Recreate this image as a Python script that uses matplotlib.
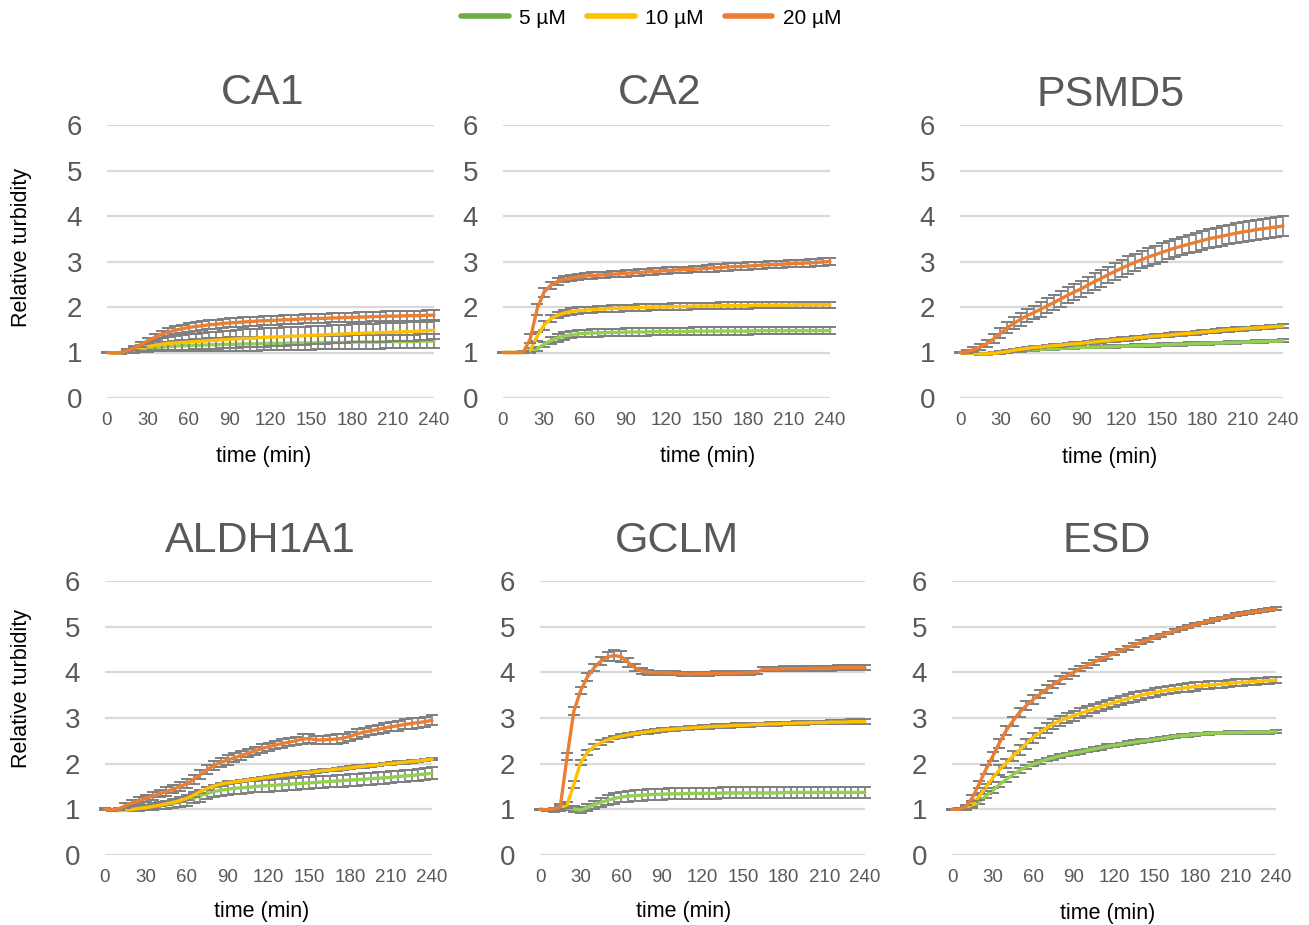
"""Relative turbidity over time for six proteins at 5, 10 and 20 uM."""
import matplotlib
matplotlib.use("Agg")
import matplotlib.pyplot as plt
from matplotlib.lines import Line2D

plt.rcParams["font.family"] = ["Liberation Sans", "DejaVu Sans"]

# time axis, minutes (readings every 5 min)
TIME = list(range(0, 241, 5))
CONCS = ["5 µM", "10 µM", "20 µM"]
X_TICKS = [0, 30, 60, 90, 120, 150, 180, 210, 240]
Y_TICKS = [0, 1, 2, 3, 4, 5, 6]

# ── CA1 ──
CA1_5 = [1.00, 0.99, 0.99, 1.01, 1.04, 1.07, 1.09, 1.11, 1.12, 1.13,
         1.14, 1.15, 1.15, 1.16, 1.16, 1.17, 1.17, 1.18, 1.18, 1.18,
         1.19, 1.19, 1.19, 1.20, 1.20, 1.20, 1.20, 1.21, 1.21, 1.21,
         1.21, 1.22, 1.22, 1.22, 1.22, 1.22, 1.23, 1.23, 1.23, 1.23,
         1.23, 1.24, 1.24, 1.24, 1.24, 1.24, 1.25, 1.25, 1.25]
CA1_10 = [1.00, 0.99, 1.00, 1.02, 1.06, 1.10, 1.13, 1.16, 1.18, 1.20,
          1.21, 1.22, 1.23, 1.24, 1.25, 1.26, 1.27, 1.28, 1.29, 1.30,
          1.31, 1.31, 1.32, 1.33, 1.34, 1.34, 1.35, 1.36, 1.36, 1.37,
          1.38, 1.38, 1.39, 1.40, 1.40, 1.41, 1.42, 1.42, 1.43, 1.43,
          1.44, 1.44, 1.45, 1.45, 1.46, 1.46, 1.47, 1.48, 1.49]
CA1_20 = [1.00, 0.99, 1.00, 1.04, 1.10, 1.18, 1.26, 1.33, 1.40, 1.45,
          1.49, 1.52, 1.55, 1.57, 1.59, 1.61, 1.62, 1.64, 1.65, 1.66,
          1.67, 1.68, 1.69, 1.70, 1.70, 1.71, 1.72, 1.72, 1.73, 1.74,
          1.74, 1.75, 1.75, 1.76, 1.76, 1.77, 1.77, 1.78, 1.78, 1.79,
          1.79, 1.80, 1.80, 1.80, 1.81, 1.81, 1.81, 1.82, 1.82]
CA1_5_ERR = [0.01, 0.01, 0.02, 0.03, 0.04, 0.06, 0.07, 0.08, 0.09, 0.10,
             0.11, 0.12, 0.12, 0.13, 0.13, 0.14, 0.14, 0.14, 0.15, 0.15,
             0.15, 0.15, 0.15, 0.15, 0.15, 0.15, 0.15, 0.15, 0.15, 0.15,
             0.15, 0.15, 0.15, 0.15, 0.15, 0.15, 0.15, 0.15, 0.15, 0.15,
             0.15, 0.15, 0.15, 0.15, 0.15, 0.15, 0.15, 0.15, 0.15]
CA1_10_ERR = [0.01, 0.01, 0.02, 0.03, 0.05, 0.07, 0.09, 0.11, 0.13, 0.14,
              0.15, 0.16, 0.17, 0.17, 0.18, 0.18, 0.19, 0.19, 0.19, 0.20,
              0.20, 0.20, 0.20, 0.20, 0.20, 0.20, 0.20, 0.20, 0.20, 0.20,
              0.20, 0.20, 0.20, 0.20, 0.20, 0.20, 0.20, 0.20, 0.20, 0.20,
              0.20, 0.20, 0.20, 0.20, 0.20, 0.20, 0.20, 0.20, 0.20]
CA1_20_ERR = [0.01, 0.01, 0.02, 0.03, 0.04, 0.05, 0.06, 0.07, 0.08, 0.08,
              0.09, 0.09, 0.09, 0.10, 0.10, 0.10, 0.10, 0.10, 0.10, 0.10,
              0.10, 0.10, 0.10, 0.10, 0.10, 0.10, 0.10, 0.10, 0.10, 0.10,
              0.10, 0.10, 0.10, 0.10, 0.10, 0.10, 0.10, 0.10, 0.10, 0.10,
              0.11, 0.11, 0.11, 0.11, 0.11, 0.11, 0.11, 0.11, 0.11]

# ── CA2 ──
CA2_5 = [1.00, 1.00, 1.00, 1.00, 1.00, 1.08, 1.18, 1.26, 1.32, 1.36,
         1.39, 1.41, 1.42, 1.43, 1.43, 1.44, 1.44, 1.44, 1.45, 1.45,
         1.45, 1.45, 1.46, 1.46, 1.46, 1.46, 1.46, 1.46, 1.47, 1.47,
         1.47, 1.47, 1.47, 1.47, 1.47, 1.47, 1.47, 1.48, 1.48, 1.48,
         1.48, 1.48, 1.48, 1.48, 1.48, 1.48, 1.48, 1.48, 1.48]
CA2_10 = [1.00, 1.00, 1.00, 1.00, 1.05, 1.35, 1.60, 1.74, 1.82, 1.87,
          1.90, 1.92, 1.93, 1.94, 1.95, 1.96, 1.97, 1.97, 1.98, 1.98,
          1.99, 1.99, 2.00, 2.00, 2.00, 2.01, 2.01, 2.01, 2.02, 2.02,
          2.02, 2.02, 2.03, 2.03, 2.03, 2.03, 2.03, 2.04, 2.04, 2.04,
          2.04, 2.04, 2.04, 2.05, 2.05, 2.05, 2.05, 2.05, 2.05]
CA2_20 = [1.00, 1.00, 1.00, 1.01, 1.30, 1.95, 2.32, 2.48, 2.56, 2.61,
          2.64, 2.66, 2.68, 2.69, 2.70, 2.71, 2.72, 2.73, 2.74, 2.75,
          2.76, 2.77, 2.78, 2.79, 2.80, 2.81, 2.82, 2.82, 2.83, 2.84,
          2.85, 2.86, 2.87, 2.88, 2.89, 2.89, 2.90, 2.91, 2.92, 2.93,
          2.93, 2.94, 2.95, 2.96, 2.96, 2.97, 2.98, 2.99, 3.00]
CA2_5_ERR = [0.01, 0.01, 0.01, 0.01, 0.02, 0.05, 0.06, 0.07, 0.08, 0.08,
             0.08, 0.08, 0.08, 0.08, 0.08, 0.08, 0.08, 0.08, 0.08, 0.08,
             0.08, 0.08, 0.08, 0.08, 0.08, 0.08, 0.08, 0.08, 0.08, 0.08,
             0.08, 0.08, 0.08, 0.08, 0.08, 0.08, 0.08, 0.08, 0.08, 0.08,
             0.08, 0.08, 0.08, 0.08, 0.08, 0.08, 0.08, 0.08, 0.08]
CA2_10_ERR = [0.01, 0.01, 0.01, 0.01, 0.04, 0.10, 0.10, 0.08, 0.07, 0.07,
              0.07, 0.07, 0.07, 0.07, 0.07, 0.07, 0.07, 0.07, 0.07, 0.07,
              0.07, 0.07, 0.07, 0.07, 0.07, 0.07, 0.07, 0.07, 0.07, 0.07,
              0.07, 0.07, 0.07, 0.07, 0.07, 0.07, 0.07, 0.07, 0.07, 0.07,
              0.07, 0.07, 0.07, 0.07, 0.07, 0.07, 0.07, 0.07, 0.07]
CA2_20_ERR = [0.01, 0.01, 0.01, 0.03, 0.10, 0.12, 0.10, 0.08, 0.07, 0.07,
              0.07, 0.07, 0.07, 0.07, 0.07, 0.07, 0.07, 0.07, 0.07, 0.07,
              0.07, 0.07, 0.07, 0.07, 0.07, 0.07, 0.07, 0.07, 0.07, 0.07,
              0.08, 0.08, 0.08, 0.08, 0.08, 0.08, 0.08, 0.08, 0.08, 0.08,
              0.08, 0.08, 0.08, 0.08, 0.08, 0.08, 0.08, 0.08, 0.08]

# ── PSMD5 ──
PSMD5_5 = [1.00, 0.99, 0.98, 0.98, 0.98, 0.99, 1.00, 1.01, 1.03, 1.04,
           1.05, 1.06, 1.07, 1.08, 1.08, 1.09, 1.10, 1.10, 1.11, 1.11,
           1.12, 1.12, 1.13, 1.13, 1.14, 1.14, 1.15, 1.15, 1.16, 1.16,
           1.17, 1.17, 1.18, 1.18, 1.19, 1.19, 1.20, 1.20, 1.21, 1.21,
           1.22, 1.22, 1.23, 1.23, 1.24, 1.24, 1.25, 1.25, 1.26]
PSMD5_10 = [1.00, 0.99, 0.98, 0.97, 0.97, 0.98, 1.00, 1.02, 1.05, 1.07,
            1.09, 1.11, 1.12, 1.14, 1.15, 1.16, 1.18, 1.19, 1.20, 1.22,
            1.23, 1.25, 1.26, 1.28, 1.29, 1.30, 1.32, 1.33, 1.35, 1.36,
            1.37, 1.38, 1.40, 1.41, 1.42, 1.43, 1.45, 1.46, 1.47, 1.49,
            1.50, 1.51, 1.52, 1.53, 1.54, 1.55, 1.56, 1.57, 1.58]
PSMD5_20 = [1.00, 1.02, 1.06, 1.12, 1.20, 1.30, 1.42, 1.54, 1.64, 1.73,
            1.81, 1.88, 1.95, 2.03, 2.10, 2.18, 2.26, 2.33, 2.40, 2.48,
            2.56, 2.63, 2.71, 2.78, 2.85, 2.92, 2.98, 3.04, 3.10, 3.15,
            3.20, 3.25, 3.30, 3.34, 3.38, 3.42, 3.46, 3.50, 3.53, 3.56,
            3.59, 3.62, 3.65, 3.67, 3.70, 3.72, 3.74, 3.76, 3.78]
PSMD5_5_ERR = [0.02, 0.02, 0.02, 0.02, 0.02, 0.02, 0.02, 0.02, 0.02, 0.02,
               0.02, 0.02, 0.02, 0.02, 0.02, 0.02, 0.02, 0.02, 0.02, 0.02,
               0.03, 0.03, 0.03, 0.03, 0.03, 0.03, 0.03, 0.03, 0.03, 0.03,
               0.03, 0.03, 0.03, 0.03, 0.03, 0.03, 0.03, 0.03, 0.03, 0.03,
               0.03, 0.03, 0.03, 0.03, 0.03, 0.03, 0.03, 0.03, 0.03]
PSMD5_10_ERR = [0.02, 0.02, 0.02, 0.02, 0.02, 0.02, 0.03, 0.03, 0.03, 0.03,
                0.03, 0.03, 0.03, 0.03, 0.03, 0.03, 0.03, 0.03, 0.03, 0.03,
                0.04, 0.04, 0.04, 0.04, 0.04, 0.04, 0.04, 0.04, 0.04, 0.04,
                0.04, 0.04, 0.04, 0.04, 0.04, 0.04, 0.04, 0.04, 0.04, 0.04,
                0.04, 0.04, 0.04, 0.04, 0.04, 0.04, 0.04, 0.04, 0.04]
PSMD5_20_ERR = [0.02, 0.03, 0.05, 0.07, 0.08, 0.10, 0.11, 0.12, 0.13, 0.14,
                0.15, 0.15, 0.16, 0.16, 0.16, 0.17, 0.17, 0.17, 0.17, 0.18,
                0.18, 0.18, 0.18, 0.18, 0.19, 0.19, 0.19, 0.19, 0.19, 0.20,
                0.20, 0.20, 0.20, 0.20, 0.20, 0.21, 0.21, 0.21, 0.21, 0.21,
                0.21, 0.22, 0.22, 0.22, 0.22, 0.22, 0.22, 0.22, 0.22]

# ── ALDH1A1 ──
ALDH1A1_5 = [1.00, 0.99, 0.99, 1.00, 1.01, 1.02, 1.04, 1.06, 1.08, 1.10,
             1.13, 1.16, 1.20, 1.25, 1.30, 1.35, 1.39, 1.42, 1.44, 1.46,
             1.47, 1.48, 1.50, 1.51, 1.52, 1.53, 1.54, 1.55, 1.56, 1.57,
             1.58, 1.59, 1.60, 1.61, 1.62, 1.63, 1.64, 1.65, 1.66, 1.67,
             1.68, 1.69, 1.70, 1.72, 1.73, 1.74, 1.76, 1.77, 1.79]
ALDH1A1_10 = [1.00, 0.98, 0.97, 0.98, 1.00, 1.02, 1.04, 1.06, 1.09, 1.12,
              1.15, 1.19, 1.24, 1.31, 1.39, 1.46, 1.51, 1.55, 1.58, 1.60,
              1.62, 1.64, 1.66, 1.68, 1.70, 1.72, 1.74, 1.76, 1.78, 1.80,
              1.81, 1.83, 1.85, 1.86, 1.88, 1.89, 1.91, 1.93, 1.94, 1.96,
              1.97, 1.99, 2.00, 2.02, 2.03, 2.05, 2.06, 2.08, 2.10]
ALDH1A1_20 = [1.00, 0.99, 1.01, 1.08, 1.14, 1.19, 1.24, 1.29, 1.34, 1.39,
              1.44, 1.50, 1.56, 1.65, 1.76, 1.87, 1.96, 2.03, 2.08, 2.13,
              2.18, 2.23, 2.28, 2.33, 2.37, 2.41, 2.44, 2.47, 2.50, 2.54,
              2.55, 2.52, 2.52, 2.53, 2.54, 2.56, 2.60, 2.65, 2.69, 2.72,
              2.75, 2.78, 2.81, 2.83, 2.86, 2.88, 2.90, 2.92, 2.95]
ALDH1A1_5_ERR = [0.01, 0.01, 0.02, 0.03, 0.04, 0.05, 0.06, 0.07, 0.08, 0.09,
                 0.10, 0.11, 0.12, 0.12, 0.13, 0.13, 0.13, 0.13, 0.13, 0.13,
                 0.13, 0.13, 0.13, 0.13, 0.13, 0.13, 0.13, 0.13, 0.13, 0.13,
                 0.13, 0.13, 0.13, 0.13, 0.13, 0.13, 0.13, 0.13, 0.13, 0.13,
                 0.13, 0.13, 0.13, 0.13, 0.13, 0.13, 0.13, 0.13, 0.13]
ALDH1A1_10_ERR = [0.01, 0.01, 0.01, 0.01, 0.02, 0.02, 0.02, 0.02, 0.02, 0.02,
                  0.02, 0.02, 0.03, 0.03, 0.03, 0.03, 0.03, 0.03, 0.03, 0.03,
                  0.03, 0.03, 0.03, 0.03, 0.03, 0.03, 0.03, 0.03, 0.03, 0.03,
                  0.03, 0.03, 0.03, 0.03, 0.03, 0.03, 0.03, 0.03, 0.03, 0.03,
                  0.03, 0.03, 0.03, 0.03, 0.03, 0.03, 0.03, 0.03, 0.03]
ALDH1A1_20_ERR = [0.02, 0.02, 0.03, 0.05, 0.06, 0.07, 0.07, 0.08, 0.08, 0.09,
                  0.09, 0.09, 0.10, 0.10, 0.10, 0.10, 0.10, 0.10, 0.10, 0.10,
                  0.09, 0.09, 0.09, 0.09, 0.09, 0.09, 0.09, 0.09, 0.09, 0.10,
                  0.10, 0.08, 0.08, 0.09, 0.10, 0.10, 0.10, 0.10, 0.10, 0.10,
                  0.10, 0.10, 0.10, 0.11, 0.11, 0.11, 0.11, 0.11, 0.11]

# ── GCLM ──
GCLM_5 = [1.00, 0.98, 0.98, 1.00, 1.03, 1.01, 0.98, 1.04, 1.10, 1.15,
          1.20, 1.24, 1.27, 1.29, 1.30, 1.31, 1.32, 1.33, 1.33, 1.34,
          1.34, 1.34, 1.35, 1.35, 1.35, 1.35, 1.35, 1.36, 1.36, 1.36,
          1.36, 1.36, 1.36, 1.36, 1.36, 1.36, 1.37, 1.37, 1.37, 1.37,
          1.37, 1.37, 1.37, 1.37, 1.37, 1.37, 1.37, 1.37, 1.37]
GCLM_10 = [1.00, 0.99, 1.00, 1.03, 1.10, 1.55, 2.02, 2.25, 2.38, 2.46,
           2.52, 2.57, 2.60, 2.63, 2.66, 2.68, 2.70, 2.72, 2.74, 2.75,
           2.76, 2.77, 2.78, 2.79, 2.80, 2.81, 2.82, 2.82, 2.83, 2.84,
           2.84, 2.85, 2.86, 2.86, 2.87, 2.87, 2.88, 2.88, 2.89, 2.89,
           2.90, 2.90, 2.90, 2.91, 2.91, 2.91, 2.92, 2.92, 2.92]
GCLM_20 = [1.00, 0.99, 1.01, 1.06, 2.15, 3.15, 3.60, 3.90, 4.10, 4.25,
           4.34, 4.37, 4.34, 4.22, 4.10, 4.03, 4.00, 3.99, 3.99, 3.99,
           3.98, 3.97, 3.96, 3.97, 3.97, 3.97, 3.98, 3.98, 3.98, 3.98,
           3.99, 3.99, 4.00, 4.07, 4.07, 4.07, 4.08, 4.08, 4.08, 4.08,
           4.09, 4.09, 4.09, 4.09, 4.10, 4.10, 4.10, 4.10, 4.10]
GCLM_5_ERR = [0.01, 0.02, 0.03, 0.04, 0.05, 0.06, 0.07, 0.08, 0.09, 0.10,
              0.11, 0.12, 0.12, 0.12, 0.12, 0.12, 0.12, 0.12, 0.12, 0.12,
              0.12, 0.12, 0.12, 0.12, 0.12, 0.12, 0.12, 0.12, 0.12, 0.12,
              0.12, 0.12, 0.12, 0.12, 0.12, 0.12, 0.12, 0.12, 0.12, 0.12,
              0.12, 0.12, 0.12, 0.12, 0.12, 0.12, 0.12, 0.12, 0.12]
GCLM_10_ERR = [0.01, 0.02, 0.03, 0.04, 0.06, 0.08, 0.06, 0.05, 0.05, 0.05,
               0.04, 0.04, 0.04, 0.04, 0.04, 0.04, 0.04, 0.04, 0.04, 0.04,
               0.04, 0.04, 0.04, 0.04, 0.04, 0.04, 0.04, 0.04, 0.04, 0.04,
               0.04, 0.04, 0.04, 0.04, 0.04, 0.04, 0.04, 0.04, 0.04, 0.04,
               0.04, 0.04, 0.04, 0.04, 0.04, 0.05, 0.05, 0.05, 0.05]
GCLM_20_ERR = [0.01, 0.02, 0.03, 0.05, 0.08, 0.08, 0.08, 0.08, 0.08, 0.08,
               0.10, 0.12, 0.12, 0.10, 0.08, 0.06, 0.05, 0.04, 0.04, 0.04,
               0.04, 0.04, 0.04, 0.04, 0.04, 0.04, 0.04, 0.04, 0.04, 0.04,
               0.04, 0.04, 0.04, 0.05, 0.05, 0.05, 0.05, 0.05, 0.05, 0.05,
               0.05, 0.05, 0.05, 0.05, 0.05, 0.05, 0.05, 0.05, 0.05]

# ── ESD ──
ESD_5 = [1.00, 1.00, 1.01, 1.06, 1.16, 1.29, 1.41, 1.54, 1.65, 1.76,
         1.85, 1.93, 1.99, 2.04, 2.09, 2.13, 2.17, 2.20, 2.23, 2.26,
         2.29, 2.32, 2.35, 2.38, 2.40, 2.42, 2.45, 2.47, 2.49, 2.51,
         2.53, 2.55, 2.57, 2.60, 2.61, 2.62, 2.64, 2.65, 2.66, 2.67,
         2.67, 2.68, 2.68, 2.68, 2.69, 2.69, 2.69, 2.69, 2.70]
ESD_10 = [1.00, 1.00, 1.02, 1.10, 1.28, 1.48, 1.68, 1.86, 2.01, 2.16,
          2.30, 2.44, 2.57, 2.68, 2.78, 2.87, 2.94, 3.00, 3.05, 3.10,
          3.15, 3.20, 3.25, 3.30, 3.34, 3.38, 3.42, 3.46, 3.50, 3.53,
          3.56, 3.59, 3.61, 3.63, 3.65, 3.67, 3.69, 3.71, 3.72, 3.73,
          3.74, 3.76, 3.77, 3.78, 3.79, 3.80, 3.81, 3.82, 3.83]
ESD_20 = [1.00, 1.00, 1.05, 1.25, 1.55, 1.87, 2.15, 2.45, 2.72, 2.93,
          3.12, 3.27, 3.40, 3.52, 3.63, 3.73, 3.83, 3.92, 4.00, 4.08,
          4.15, 4.22, 4.29, 4.35, 4.41, 4.48, 4.54, 4.60, 4.66, 4.71,
          4.76, 4.81, 4.86, 4.91, 4.96, 5.00, 5.04, 5.08, 5.12, 5.16,
          5.19, 5.23, 5.26, 5.29, 5.31, 5.33, 5.35, 5.37, 5.39]
ESD_5_ERR = [0.01, 0.02, 0.03, 0.04, 0.05, 0.05, 0.05, 0.05, 0.05, 0.05,
             0.05, 0.05, 0.05, 0.05, 0.04, 0.04, 0.04, 0.04, 0.04, 0.04,
             0.04, 0.04, 0.04, 0.04, 0.04, 0.04, 0.04, 0.04, 0.04, 0.04,
             0.03, 0.03, 0.03, 0.03, 0.03, 0.03, 0.03, 0.03, 0.03, 0.03,
             0.03, 0.03, 0.03, 0.03, 0.03, 0.03, 0.03, 0.03, 0.03]
ESD_10_ERR = [0.01, 0.02, 0.03, 0.05, 0.07, 0.08, 0.09, 0.10, 0.10, 0.11,
              0.11, 0.11, 0.11, 0.11, 0.11, 0.11, 0.11, 0.11, 0.11, 0.11,
              0.11, 0.10, 0.10, 0.10, 0.10, 0.10, 0.10, 0.10, 0.10, 0.09,
              0.09, 0.09, 0.09, 0.09, 0.09, 0.09, 0.09, 0.08, 0.08, 0.08,
              0.08, 0.08, 0.08, 0.07, 0.07, 0.07, 0.07, 0.07, 0.07]
ESD_20_ERR = [0.01, 0.02, 0.04, 0.06, 0.08, 0.09, 0.10, 0.10, 0.10, 0.10,
              0.10, 0.10, 0.10, 0.09, 0.09, 0.08, 0.08, 0.07, 0.07, 0.06,
              0.06, 0.05, 0.05, 0.05, 0.04, 0.04, 0.04, 0.04, 0.04, 0.04,
              0.03, 0.03, 0.03, 0.03, 0.03, 0.03, 0.03, 0.03, 0.03, 0.03,
              0.03, 0.03, 0.03, 0.03, 0.03, 0.03, 0.03, 0.03, 0.03]

PANELS = [
    ("CA1", [CA1_5, CA1_10, CA1_20], [CA1_5_ERR, CA1_10_ERR, CA1_20_ERR]),
    ("CA2", [CA2_5, CA2_10, CA2_20], [CA2_5_ERR, CA2_10_ERR, CA2_20_ERR]),
    ("PSMD5", [PSMD5_5, PSMD5_10, PSMD5_20],
     [PSMD5_5_ERR, PSMD5_10_ERR, PSMD5_20_ERR]),
    ("ALDH1A1", [ALDH1A1_5, ALDH1A1_10, ALDH1A1_20],
     [ALDH1A1_5_ERR, ALDH1A1_10_ERR, ALDH1A1_20_ERR]),
    ("GCLM", [GCLM_5, GCLM_10, GCLM_20], [GCLM_5_ERR, GCLM_10_ERR, GCLM_20_ERR]),
    ("ESD", [ESD_5, ESD_10, ESD_20], [ESD_5_ERR, ESD_10_ERR, ESD_20_ERR]),
]

LINE_COLORS = ["#92D050", "#FFC000", "#ED7D31"]
LEGEND_COLORS = ["#70AD47", "#FFC000", "#ED7D31"]
ERR_COLOR = "#7F7F7F"
GRID_COLOR = "#D9D9D9"
TEXT_COLOR = "#595959"

# plot-area boxes in pixels: (left, right, top, bottom); title / x-label centres
W, H = 1309, 925
BOXES = [(107, 434, 125, 398), (503, 830, 125, 398), (960, 1283, 125, 398),
         (105, 432, 581, 855), (540, 865, 581, 855), (952, 1276, 581, 855)]
TITLE_POS = [(263, 93), (660, 93), (1111, 95),
             (260, 541), (677, 541), (1107, 541)]
XLABEL_POS = [(264, 456), (708, 456), (1110, 457),
              (262, 912), (684, 911), (1108, 913)]

fig = plt.figure(figsize=(W / 100, H / 100), dpi=100)

for (name, means, errs), (x0, x1, y0, y1), (tx, ty), (lx, ly) in zip(
        PANELS, BOXES, TITLE_POS, XLABEL_POS):
    assert all(len(s) == len(TIME) for s in means + errs), name
    ax = fig.add_axes([x0 / W, 1 - y1 / H, (x1 - x0) / W, (y1 - y0) / H])
    for i, (m, e) in enumerate(zip(means, errs)):
        ax.errorbar(TIME, m, yerr=e, fmt="none", ecolor=ERR_COLOR,
                    elinewidth=1.2, capsize=4, capthick=1.4,
                    zorder=3 + 2 * i, clip_on=False)
        ax.plot(TIME, m, color=LINE_COLORS[i], lw=2.4, zorder=4 + 2 * i,
                solid_capstyle="round", clip_on=False)
    ax.set_xlim(0, 240)
    ax.set_ylim(0, 6)
    ax.set_xticks(X_TICKS)
    ax.set_yticks(Y_TICKS)
    ax.grid(axis="y", color=GRID_COLOR, lw=1.6)
    ax.set_axisbelow(True)
    for s in ax.spines.values():
        s.set_visible(False)
    ax.tick_params(axis="y", length=0, labelsize=20, labelcolor=TEXT_COLOR, pad=18)
    ax.tick_params(axis="x", length=0, labelsize=13.5, labelcolor=TEXT_COLOR, pad=10)
    fig.text(tx / W, 1 - ty / H, name, fontsize=31, color=TEXT_COLOR,
             ha="center", va="center")
    fig.text(lx / W, 1 - ly / H, "time (min)", fontsize=15.5, color="black",
             ha="center", va="center")

for yc in (248, 688):
    fig.text(22 / W, 1 - yc / H, "Relative turbidity", rotation=90,
             fontsize=15.5, ha="center", va="center")

handles = [Line2D([], [], color=c, lw=4, solid_capstyle="round")
           for c in LEGEND_COLORS]
fig.legend(handles, CONCS, loc="center", bbox_to_anchor=(651 / W, 1 - 18 / H),
           ncol=3, frameon=False, fontsize=15, handlelength=2.3,
           handletextpad=0.5, columnspacing=1.0)

fig.savefig("out.png", dpi=100, facecolor="white")
